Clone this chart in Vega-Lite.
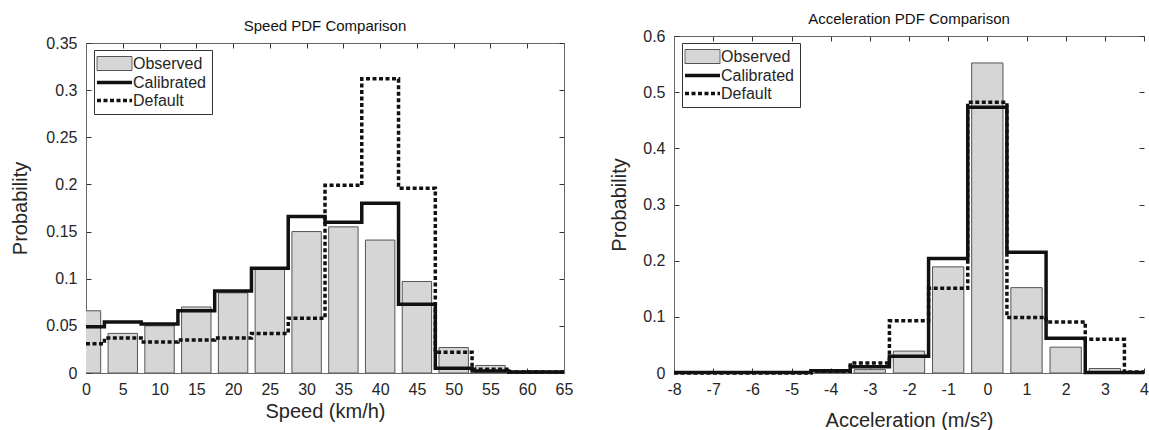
{
  "$schema": "https://vega.github.io/schema/vega-lite/v6.json",
  "background": "white",
  "padding": {"left": 10, "top": 12, "right": 0, "bottom": 0},
  "autosize": {"type": "pad"},
  "spacing": 36,
  "align": "none",
  "bounds": "full",
  "resolve": {
    "scale": {"stroke": "independent", "fill": "independent", "strokeWidth": "independent", "strokeDash": "independent", "shape": "independent"},
    "legend": {"stroke": "independent", "fill": "independent", "strokeWidth": "independent", "strokeDash": "independent", "shape": "independent"}
  },
  "datasets": {
    "speed": [
      {"speed": 0, "series": "Observed", "prob": 0.066},
      {"speed": 5, "series": "Observed", "prob": 0.042},
      {"speed": 10, "series": "Observed", "prob": 0.050},
      {"speed": 15, "series": "Observed", "prob": 0.070},
      {"speed": 20, "series": "Observed", "prob": 0.085},
      {"speed": 25, "series": "Observed", "prob": 0.110},
      {"speed": 30, "series": "Observed", "prob": 0.150},
      {"speed": 35, "series": "Observed", "prob": 0.155},
      {"speed": 40, "series": "Observed", "prob": 0.141},
      {"speed": 45, "series": "Observed", "prob": 0.097},
      {"speed": 50, "series": "Observed", "prob": 0.027},
      {"speed": 55, "series": "Observed", "prob": 0.008},
      {"speed": 60, "series": "Observed", "prob": 0.001},
      {"speed": 65, "series": "Observed", "prob": 0.000},
      {"speed": 0, "series": "Calibrated", "prob": 0.049},
      {"speed": 5, "series": "Calibrated", "prob": 0.054},
      {"speed": 10, "series": "Calibrated", "prob": 0.052},
      {"speed": 15, "series": "Calibrated", "prob": 0.066},
      {"speed": 20, "series": "Calibrated", "prob": 0.087},
      {"speed": 25, "series": "Calibrated", "prob": 0.111},
      {"speed": 30, "series": "Calibrated", "prob": 0.166},
      {"speed": 35, "series": "Calibrated", "prob": 0.160},
      {"speed": 40, "series": "Calibrated", "prob": 0.180},
      {"speed": 45, "series": "Calibrated", "prob": 0.073},
      {"speed": 50, "series": "Calibrated", "prob": 0.005},
      {"speed": 55, "series": "Calibrated", "prob": 0.002},
      {"speed": 60, "series": "Calibrated", "prob": 0.001},
      {"speed": 65, "series": "Calibrated", "prob": 0.001},
      {"speed": 0, "series": "Default", "prob": 0.031},
      {"speed": 5, "series": "Default", "prob": 0.037},
      {"speed": 10, "series": "Default", "prob": 0.033},
      {"speed": 15, "series": "Default", "prob": 0.035},
      {"speed": 20, "series": "Default", "prob": 0.037},
      {"speed": 25, "series": "Default", "prob": 0.042},
      {"speed": 30, "series": "Default", "prob": 0.058},
      {"speed": 35, "series": "Default", "prob": 0.199},
      {"speed": 40, "series": "Default", "prob": 0.312},
      {"speed": 45, "series": "Default", "prob": 0.196},
      {"speed": 50, "series": "Default", "prob": 0.022},
      {"speed": 55, "series": "Default", "prob": 0.004},
      {"speed": 60, "series": "Default", "prob": 0.001},
      {"speed": 65, "series": "Default", "prob": 0.001}
    ],
    "accel": [
      {"acc": -8, "series": "Observed", "prob": 0.000},
      {"acc": -7, "series": "Observed", "prob": 0.000},
      {"acc": -6, "series": "Observed", "prob": 0.000},
      {"acc": -5, "series": "Observed", "prob": 0.000},
      {"acc": -4, "series": "Observed", "prob": 0.001},
      {"acc": -3, "series": "Observed", "prob": 0.006},
      {"acc": -2, "series": "Observed", "prob": 0.039},
      {"acc": -1, "series": "Observed", "prob": 0.189},
      {"acc": 0, "series": "Observed", "prob": 0.552},
      {"acc": 1, "series": "Observed", "prob": 0.152},
      {"acc": 2, "series": "Observed", "prob": 0.046},
      {"acc": 3, "series": "Observed", "prob": 0.008},
      {"acc": 4, "series": "Observed", "prob": 0.000},
      {"acc": -8, "series": "Calibrated", "prob": 0.001},
      {"acc": -7, "series": "Calibrated", "prob": 0.001},
      {"acc": -6, "series": "Calibrated", "prob": 0.001},
      {"acc": -5, "series": "Calibrated", "prob": 0.001},
      {"acc": -4, "series": "Calibrated", "prob": 0.004},
      {"acc": -3, "series": "Calibrated", "prob": 0.011},
      {"acc": -2, "series": "Calibrated", "prob": 0.030},
      {"acc": -1, "series": "Calibrated", "prob": 0.204},
      {"acc": 0, "series": "Calibrated", "prob": 0.473},
      {"acc": 1, "series": "Calibrated", "prob": 0.215},
      {"acc": 2, "series": "Calibrated", "prob": 0.062},
      {"acc": 3, "series": "Calibrated", "prob": 0.001},
      {"acc": 4, "series": "Calibrated", "prob": 0.001},
      {"acc": -8, "series": "Default", "prob": 0.000},
      {"acc": -7, "series": "Default", "prob": 0.000},
      {"acc": -6, "series": "Default", "prob": 0.000},
      {"acc": -5, "series": "Default", "prob": 0.000},
      {"acc": -4, "series": "Default", "prob": 0.003},
      {"acc": -3, "series": "Default", "prob": 0.018},
      {"acc": -2, "series": "Default", "prob": 0.093},
      {"acc": -1, "series": "Default", "prob": 0.151},
      {"acc": 0, "series": "Default", "prob": 0.482},
      {"acc": 1, "series": "Default", "prob": 0.099},
      {"acc": 2, "series": "Default", "prob": 0.091},
      {"acc": 3, "series": "Default", "prob": 0.060},
      {"acc": 4, "series": "Default", "prob": 0.002}
    ]
  },
  "config": {
    "font": "Liberation Sans",
    "view": {"stroke": null},
    "axis": {
      "grid": false,
      "domain": true,
      "domainColor": "#666",
      "domainWidth": 1,
      "tickSize": -5,
      "tickColor": "#333",
      "labelFlush": false,
      "labelOverlap": false,
      "labelFont": "Liberation Sans",
      "labelFontSize": 16,
      "labelColor": "#262626",
      "labelPadding": 14,
      "titleFont": "Liberation Sans",
      "titleFontSize": 20,
      "titleFontWeight": "normal",
      "titleColor": "#262626"
    },
    "axisX": {"labelPadding": 13.5},
    "title": {"font": "Liberation Sans", "fontSize": 15, "fontWeight": "normal", "color": "#111", "frame": "group"},
    "legend": {
      "title": null,
      "orient": "none",
      "legendX": 8,
      "padding": 5.5,
      "strokeColor": "#333",
      "fillColor": "white",
      "labelFont": "Liberation Sans",
      "labelFontSize": 16,
      "labelColor": "#262626",
      "symbolSize": 100,
      "rowPadding": 2,
      "labelOffset": 10.5,
      "symbolOffset": 7
    }
  },
  "hconcat": [
    {
      "width": 478,
      "height": 337,
      "title": {"text": "Speed PDF Comparison", "offset": 1},
      "data": {"name": "speed"},
      "resolve": {"axis": {"x": "independent", "y": "independent"}},
      "layer": [
        {
          "transform": [{"filter": "datum.series === 'Observed'"}],
          "mark": {"type": "bar", "orient": "vertical", "width": 29.4, "fill": "#d6d6d6", "stroke": "#555555", "strokeWidth": 1, "clip": true},
          "encoding": {
            "x": {"field": "speed", "type": "quantitative", "scale": {"domain": [0, 65], "nice": false, "zero": false, "padding": 0},
                  "axis": {"orient": "bottom", "values": [0, 5, 10, 15, 20, 25, 30, 35, 40, 45, 50, 55, 60, 65], "labelExpr": "'' + datum.value", "title": "Speed (km/h)", "titlePadding": 4}},
            "y": {"field": "prob", "type": "quantitative", "scale": {"domain": [0, 0.35], "nice": false, "range": [337, 7]},
                  "axis": {"orient": "left", "values": [0, 0.05, 0.1, 0.15, 0.2, 0.25, 0.3, 0.35], "labelExpr": "'' + datum.value", "title": "Probability", "titlePadding": 15}}
          }
        },
        {
          "transform": [{"filter": "datum.series === 'Calibrated'"}],
          "mark": {"type": "line", "interpolate": "step", "stroke": "#111111", "strokeWidth": 3.5, "strokeCap": "butt", "strokeJoin": "miter"},
          "encoding": {
            "x": {"field": "speed", "type": "quantitative",
                  "axis": {"orient": "top", "offset": -7, "values": [0, 5, 10, 15, 20, 25, 30, 35, 40, 45, 50, 55, 60, 65], "labels": false, "title": null}},
            "y": {"field": "prob", "type": "quantitative",
                  "axis": {"orient": "right", "values": [0, 0.05, 0.1, 0.15, 0.2, 0.25, 0.3, 0.35], "labels": false, "title": null}}
          }
        },
        {
          "transform": [{"filter": "datum.series === 'Default'"}],
          "mark": {"type": "line", "interpolate": "step", "stroke": "#111111", "strokeWidth": 3.5, "strokeDash": [4, 2.5], "strokeCap": "butt", "strokeJoin": "miter"},
          "encoding": {
            "x": {"field": "speed", "type": "quantitative", "axis": null},
            "y": {"field": "prob", "type": "quantitative", "axis": null}
          }
        },
        {
          "transform": [{"filter": "false"}],
          "mark": {"type": "point", "opacity": 1},
          "encoding": {
            "stroke": {"field": "series", "type": "nominal",
                       "scale": {"domain": ["Observed", "Calibrated", "Default"], "range": ["#555555", "#111111", "#111111"]},
                       "legend": {"legendY": 14}},
            "fill": {"field": "series", "type": "nominal",
                     "scale": {"domain": ["Observed", "Calibrated", "Default"], "range": ["#d6d6d6", "transparent", "transparent"]}},
            "strokeWidth": {"field": "series", "type": "nominal",
                            "scale": {"type": "ordinal", "domain": ["Observed", "Calibrated", "Default"], "range": [1, 3.5, 3.5]}},
            "strokeDash": {"field": "series", "type": "nominal",
                           "scale": {"domain": ["Observed", "Calibrated", "Default"], "range": [[1, 0], [1, 0], [4, 2.5]]}},
            "shape": {"field": "series", "type": "nominal",
                      "scale": {"domain": ["Observed", "Calibrated", "Default"], "range": ["M-3.5,-1.4H3.5V1.4H-3.5Z", "M-3.5,0H3.5", "M-3.5,0H3.5"]}}
          }
        }
      ]
    },
    {
      "width": 470,
      "height": 337,
      "title": {"text": "Acceleration PDF Comparison", "offset": 1},
      "data": {"name": "accel"},
      "resolve": {"axis": {"x": "independent", "y": "independent"}},
      "layer": [
        {
          "transform": [{"filter": "datum.series === 'Observed'"}],
          "mark": {"type": "bar", "orient": "vertical", "width": 31.3, "fill": "#d6d6d6", "stroke": "#555555", "strokeWidth": 1, "clip": true},
          "encoding": {
            "x": {"field": "acc", "type": "quantitative", "scale": {"domain": [-8, 4], "nice": false, "zero": false, "padding": 0},
                  "axis": {"orient": "bottom", "values": [-8, -7, -6, -5, -4, -3, -2, -1, 0, 1, 2, 3, 4], "labelExpr": "'' + datum.value", "title": "Acceleration (m/s²)", "titlePadding": 12.5}},
            "y": {"field": "prob", "type": "quantitative", "scale": {"domain": [0, 0.6], "nice": false},
                  "axis": {"orient": "left", "values": [0, 0.1, 0.2, 0.3, 0.4, 0.5, 0.6], "labelExpr": "'' + datum.value", "title": "Probability", "titlePadding": 13}}
          }
        },
        {
          "transform": [{"filter": "datum.series === 'Calibrated'"}],
          "mark": {"type": "line", "interpolate": "step", "stroke": "#111111", "strokeWidth": 3.5, "strokeCap": "butt", "strokeJoin": "miter"},
          "encoding": {
            "x": {"field": "acc", "type": "quantitative",
                  "axis": {"orient": "top", "values": [-8, -7, -6, -5, -4, -3, -2, -1, 0, 1, 2, 3, 4], "labels": false, "title": null}},
            "y": {"field": "prob", "type": "quantitative",
                  "axis": {"orient": "right", "domain": false, "values": [0, 0.1, 0.2, 0.3, 0.4, 0.5, 0.6], "labels": false, "title": null}}
          }
        },
        {
          "transform": [{"filter": "datum.series === 'Default'"}],
          "mark": {"type": "line", "interpolate": "step", "stroke": "#111111", "strokeWidth": 3.5, "strokeDash": [4, 2.5], "strokeCap": "butt", "strokeJoin": "miter"},
          "encoding": {
            "x": {"field": "acc", "type": "quantitative", "axis": null},
            "y": {"field": "prob", "type": "quantitative", "axis": null}
          }
        },
        {
          "transform": [{"filter": "false"}],
          "mark": {"type": "point", "opacity": 1},
          "encoding": {
            "stroke": {"field": "series", "type": "nominal",
                       "scale": {"domain": ["Observed", "Calibrated", "Default"], "range": ["#555555", "#111111", "#111111"]},
                       "legend": {"legendY": 7}},
            "fill": {"field": "series", "type": "nominal",
                     "scale": {"domain": ["Observed", "Calibrated", "Default"], "range": ["#d6d6d6", "transparent", "transparent"]}},
            "strokeWidth": {"field": "series", "type": "nominal",
                            "scale": {"type": "ordinal", "domain": ["Observed", "Calibrated", "Default"], "range": [1, 3.5, 3.5]}},
            "strokeDash": {"field": "series", "type": "nominal",
                           "scale": {"domain": ["Observed", "Calibrated", "Default"], "range": [[1, 0], [1, 0], [4, 2.5]]}},
            "shape": {"field": "series", "type": "nominal",
                      "scale": {"domain": ["Observed", "Calibrated", "Default"], "range": ["M-3.5,-1.4H3.5V1.4H-3.5Z", "M-3.5,0H3.5", "M-3.5,0H3.5"]}}
          }
        }
      ]
    }
  ]
}
